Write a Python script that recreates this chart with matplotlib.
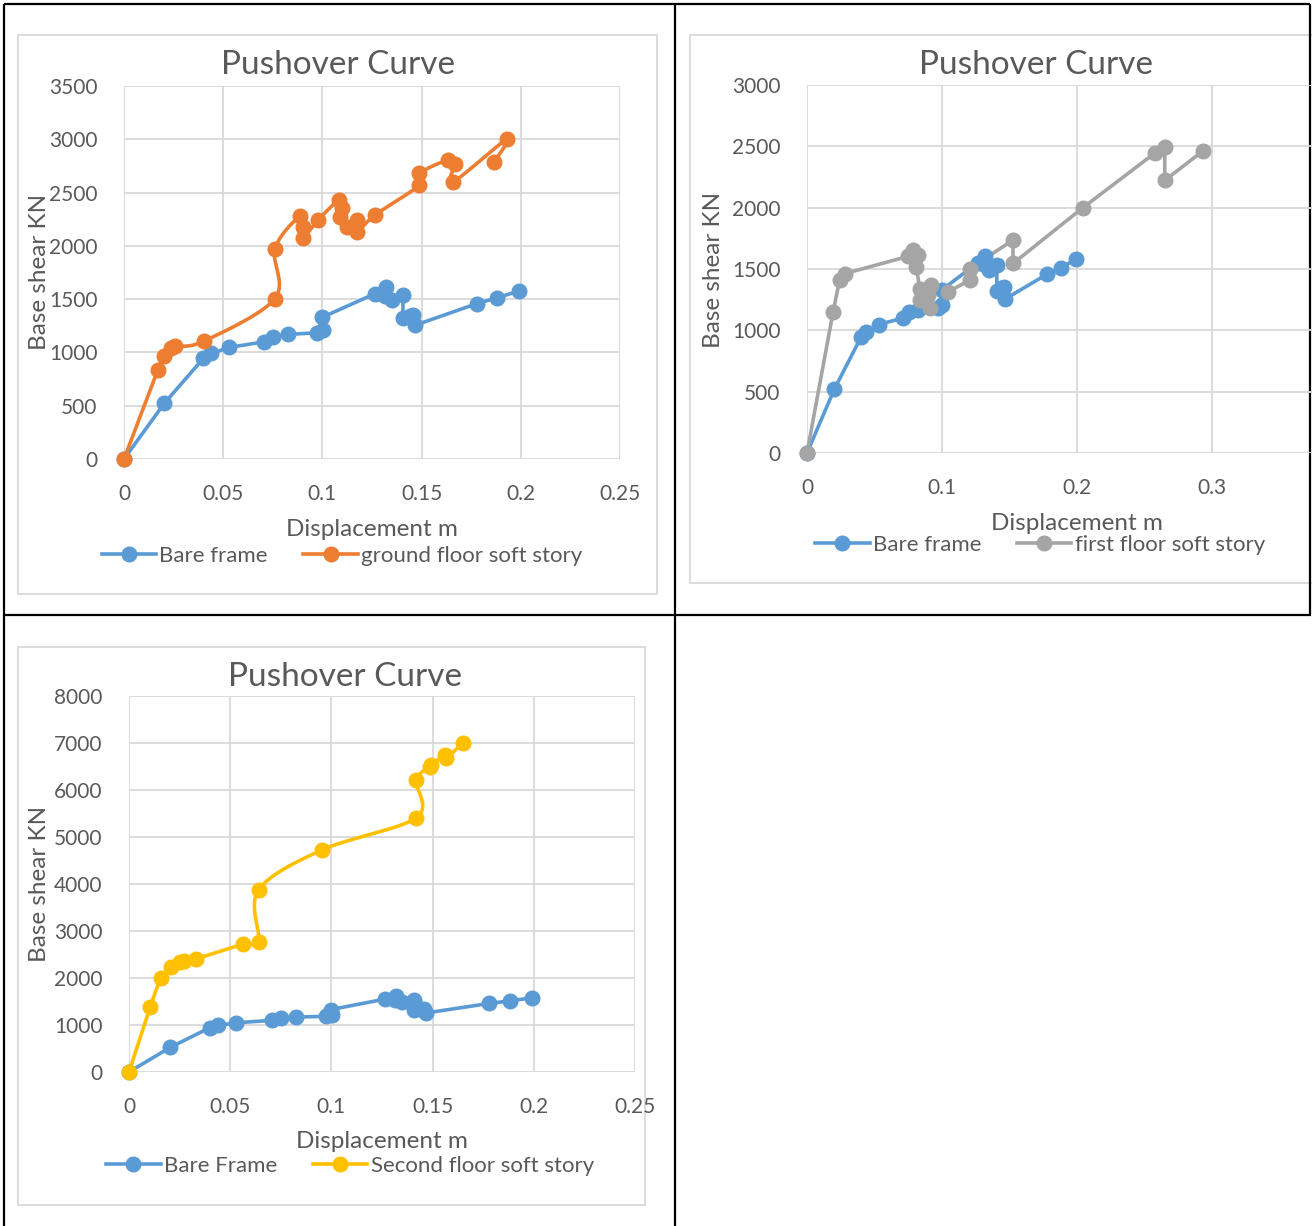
import numpy as np
import matplotlib
matplotlib.use('Agg')
import matplotlib.pyplot as plt
from matplotlib.lines import Line2D
from matplotlib.patches import Rectangle
from matplotlib.ticker import FuncFormatter, MultipleLocator, FixedLocator

W, H = 1312, 1226
plt.rcParams['font.family'] = ['Lato', 'DejaVu Sans']

TEXT = '#595959'
GRID = '#D9D9D9'
BLUE = '#5B9BD5'
ORANGE = '#ED7D31'
GREY = '#A5A5A5'
GOLD = '#FFC000'

# 裸框架 (bare frame) pushover points: displacement m, base shear kN
bare_disp = [0, 0.0203, 0.0400, 0.0440, 0.0530, 0.0708, 0.0753, 0.0825, 0.0971, 0.1002,
             0.0997, 0.1266, 0.1320, 0.1316, 0.1351, 0.1406, 0.1406, 0.1440, 0.1457, 0.1467,
             0.1780, 0.1880, 0.1993]
bare_shear = [0, 522, 944, 990, 1047, 1100, 1147, 1169, 1184, 1209,
              1328, 1552, 1610, 1530, 1495, 1535, 1320, 1345, 1350, 1255,
              1459, 1512, 1578]

# ground floor soft story
ground_disp = [0, 0.0170, 0.0203, 0.0237, 0.0257, 0.0403, 0.0761, 0.0761, 0.0887, 0.0902,
               0.0902, 0.0978, 0.1084, 0.1099, 0.1089, 0.1124, 0.1174, 0.1174, 0.1265, 0.1489,
               0.1489, 0.1632, 0.1666, 0.1657, 0.1929, 0.1865]
ground_shear = [0, 834, 966, 1037, 1059, 1106, 1506, 1975, 2280, 2176,
                2073, 2242, 2430, 2355, 2270, 2176, 2242, 2130, 2289, 2570,
                2680, 2805, 2770, 2598, 3000, 2787]

# first floor soft story
first_disp = [0, 0.0193, 0.0242, 0.0279, 0.0748, 0.0785, 0.0822, 0.0810, 0.0835, 0.0921,
              0.0894, 0.0835, 0.0909, 0.1044, 0.1205, 0.1205, 0.1526, 0.1526, 0.2044, 0.2580,
              0.2650, 0.2650, 0.2933]
first_shear = [0, 1149, 1413, 1462, 1603, 1653, 1611, 1517, 1341, 1368,
               1286, 1245, 1178, 1313, 1409, 1504, 1735, 1545, 2000, 2448,
               2495, 2223, 2462]

# second floor soft story
second_disp = [0, 0.0104, 0.0160, 0.0206, 0.0251, 0.0272, 0.0333, 0.0561, 0.0640, 0.0640,
               0.0952, 0.1419, 0.1419, 0.1488, 0.1493, 0.1560, 0.1568, 0.1650]
second_shear = [0, 1376, 2007, 2241, 2348, 2369, 2411, 2716, 2773, 3872,
                4723, 5411, 6213, 6496, 6530, 6745, 6674, 7006]


def smooth(x, y, steps=20):
    # Catmull-Rom bezier through every point (same idea as a "smoothed line" series)
    pts = np.column_stack([x, y]).astype(float)
    p = np.vstack([pts[0], pts, pts[-1]])
    t = np.linspace(0, 1, steps, endpoint=False)[:, None]
    out = []
    for i in range(1, len(p) - 2):
        p0, p1, p2, p3 = p[i - 1], p[i], p[i + 1], p[i + 2]
        c1 = p1 + (p2 - p0) / 6
        c2 = p2 - (p3 - p1) / 6
        out.append((1 - t) ** 3 * p1 + 3 * (1 - t) ** 2 * t * c1 + 3 * (1 - t) * t ** 2 * c2 + t ** 3 * p2)
    out.append(pts[-1:])
    out = np.vstack(out)
    return out[:, 0], out[:, 1]


fig = plt.figure(figsize=(W / 100, H / 100), dpi=100)

bg = fig.add_axes([0, 0, 1, 1], zorder=-5)
bg.set_xlim(0, W)
bg.set_ylim(H, 0)
bg.axis('off')

# table borders
for xs, ys in [([4, 1310], [4, 4]), ([4, 1311], [615, 615]), ([4, 4], [4, 1226]),
               ([675, 675], [4, 1226]), ([1310, 1310], [4, 615])]:
    bg.plot(xs, ys, color='black', lw=1.6, solid_capstyle='butt')

# chart frames
for (l, t, r, b) in [(18, 35, 657, 594), (690, 35, 1330, 583), (18, 647, 645, 1205)]:
    bg.add_patch(Rectangle((l, t), r - l, b - t, facecolor='white', edgecolor=GRID, lw=1.3))


def px_axes(left, top, right, bottom):
    return fig.add_axes([left / W, 1 - bottom / H, (right - left) / W, (bottom - top) / H])


def style(ax, xmax, xticks, ymax, ystep):
    ax.set_xlim(0, xmax)
    ax.set_ylim(0, ymax)
    ax.xaxis.set_major_locator(FixedLocator(xticks))
    ax.yaxis.set_major_locator(MultipleLocator(ystep))
    ax.xaxis.set_major_formatter(FuncFormatter(lambda v, p: f'{v:g}'))
    ax.grid(True, color=GRID, lw=1.3)
    ax.set_axisbelow(True)
    for s in ax.spines.values():
        s.set_visible(False)
    ax.tick_params(length=0, labelsize=15, labelcolor=TEXT)
    ax.tick_params(axis='y', pad=19)
    ax.tick_params(axis='x', pad=18)
    ax.patch.set_alpha(0)


def series(ax, x, y, color, smoothed=False):
    if smoothed:
        sx, sy = smooth(x, y)
    else:
        sx, sy = x, y
    ax.plot(sx, sy, color=color, lw=2.6, clip_on=False, zorder=3)
    ax.plot(x, y, 'o', color=color, ms=10.5, clip_on=False, zorder=4)


def legend(ax, labels, colors, cx, cy):
    handles = [Line2D([], [], color=c, lw=2.6, marker='o', ms=10.5) for c in colors]
    ax.legend(handles, labels, loc='center', bbox_to_anchor=(cx / W, 1 - cy / H),
              bbox_transform=fig.transFigure, ncol=2, frameon=False, fontsize=16,
              handlelength=2.45, handletextpad=0.15, columnspacing=1.6, labelcolor=TEXT)


def labels(title, tpos, xpos, ypos):
    bg.text(tpos[0], tpos[1], title, ha='center', va='center', fontsize=24, color=TEXT)
    bg.text(xpos[0], xpos[1], 'Displacement m', ha='center', va='center', fontsize=17.5, color=TEXT)
    bg.text(ypos[0], ypos[1], 'Base shear KN', ha='center', va='center', rotation=90,
            fontsize=17.5, color=TEXT)


# ground floor
ax1 = px_axes(124, 86, 620, 459)
style(ax1, 0.25, [0, 0.05, 0.1, 0.15, 0.2, 0.25], 3500, 500)
series(ax1, bare_disp, bare_shear, BLUE)
series(ax1, ground_disp, ground_shear, ORANGE, smoothed=True)
labels('Pushover Curve', (338, 65), (372, 529), (40, 272))
legend(ax1, ['Bare frame', 'ground floor soft story'], [BLUE, ORANGE], 342, 556)

# first floor (x axis runs past the cell edge, only 0..0.3 labels show)
ax2 = px_axes(807, 85, 1347, 453)
style(ax2, 0.4, [0, 0.1, 0.2, 0.3], 3000, 500)
series(ax2, bare_disp, bare_shear, BLUE)
series(ax2, first_disp, first_shear, GREY)
labels('Pushover Curve', (1036, 65), (1077, 523), (713, 270))
legend(ax2, ['Bare frame', 'first floor soft story'], [BLUE, GREY], 1040, 545)

# second floor
ax3 = px_axes(129, 696, 635, 1072)
style(ax3, 0.25, [0, 0.05, 0.1, 0.15, 0.2, 0.25], 8000, 1000)
series(ax3, bare_disp, bare_shear, BLUE)
series(ax3, second_disp, second_shear, GOLD, smoothed=True)
labels('Pushover Curve', (345, 677), (382, 1142), (40, 884))
legend(ax3, ['Bare Frame', 'Second floor soft story'], [BLUE, GOLD], 350, 1166)

fig.savefig('out.png', dpi=100)
